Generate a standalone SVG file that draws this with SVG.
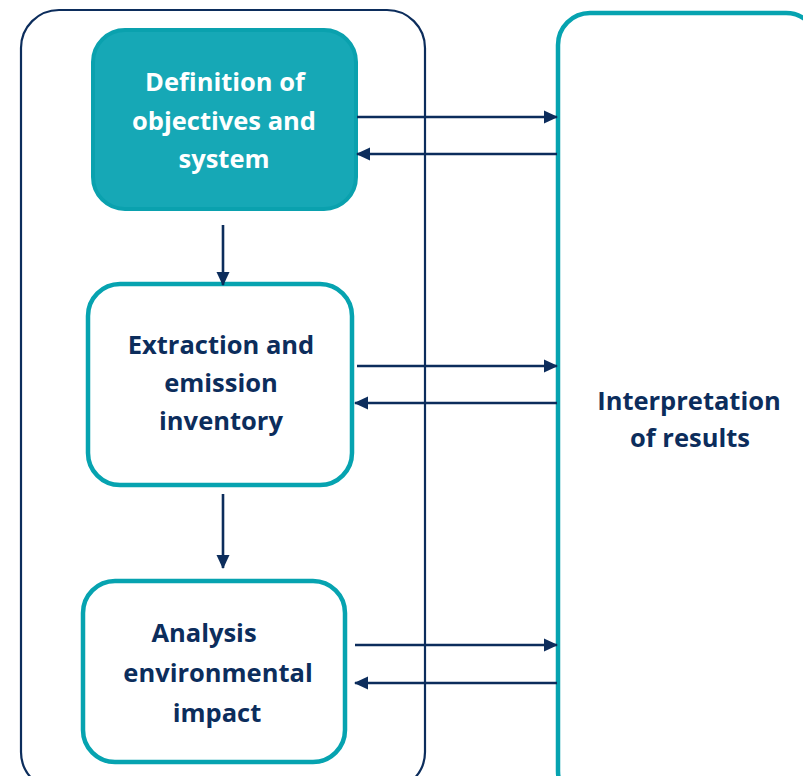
<svg xmlns="http://www.w3.org/2000/svg" width="803" height="776" viewBox="0 0 803 776">
<style>
.frame{fill:none;stroke:#0c2d5c;stroke-width:2.2}
.box{fill:#ffffff;stroke:#06a3b0;stroke-width:4.5}
.boxf{fill:#16a8b6;stroke:#0aa1ae;stroke-width:4}
.t{font-family:"Open Sans","Noto Sans",sans-serif;font-weight:700;font-size:25.5px;text-anchor:middle;fill:#0c2d5c}
.tw{fill:#ffffff}
.c{stroke:#0c2d5c;stroke-width:2.6;fill:none}
</style>
<defs>
<marker id="ah" markerWidth="14" markerHeight="14" refX="13" refY="7" orient="auto" markerUnits="userSpaceOnUse">
<path d="M0,0.5 L14,7 L0,13.5 Z" fill="#0c2d5c"/>
</marker>
</defs>
<rect class="frame" x="21" y="10" width="404" height="780" rx="38"/>
<g id="interpretation">
<rect class="box" x="558" y="13" width="260" height="790" rx="32"/>
<text class="t" x="689" y="410">Interpretation</text>
<text class="t" x="690" y="447">of results</text>
</g>
<g id="definition">
<rect class="boxf" x="93" y="30" width="263" height="179" rx="32"/>
<text class="t tw" x="225" y="91">Definition of</text>
<text class="t tw" x="224" y="130">objectives and</text>
<text class="t tw" x="224" y="168">system</text>
</g>
<g id="extraction">
<rect class="box" x="88" y="284" width="264" height="201" rx="32"/>
<text class="t" x="221" y="354">Extraction and</text>
<text class="t" x="221" y="392">emission</text>
<text class="t" x="221" y="430">inventory</text>
</g>
<g id="analysis">
<rect class="box" x="83" y="581" width="262" height="181" rx="32"/>
<text class="t" x="204" y="642">Analysis</text>
<text class="t" x="218" y="682">environmental</text>
<text class="t" x="217" y="722">impact</text>
</g>
<g id="connectors">
<line class="c" x1="357" y1="117" x2="557" y2="117" marker-end="url(#ah)"/>
<line class="c" x1="557" y1="154" x2="357" y2="154" marker-end="url(#ah)"/>
<line class="c" x1="357" y1="366" x2="557" y2="366" marker-end="url(#ah)"/>
<line class="c" x1="557" y1="403" x2="355" y2="403" marker-end="url(#ah)"/>
<line class="c" x1="355" y1="645" x2="557" y2="645" marker-end="url(#ah)"/>
<line class="c" x1="557" y1="683" x2="355" y2="683" marker-end="url(#ah)"/>
<line class="c" x1="223" y1="225" x2="223" y2="285" marker-end="url(#ah)"/>
<line class="c" x1="223" y1="494" x2="223" y2="568" marker-end="url(#ah)"/>
</g>
</svg>
